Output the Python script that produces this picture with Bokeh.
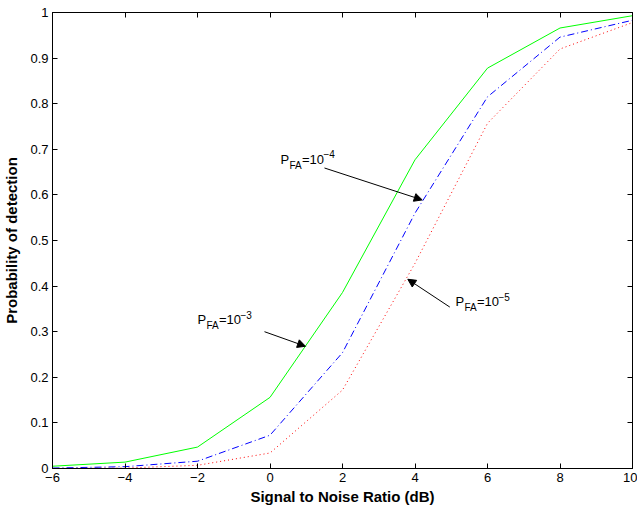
from bokeh.plotting import figure
from bokeh.models import (Label, Arrow, NormalHead, LinearAxis, FixedTicker)
from bokeh.embed import file_html
from bokeh.resources import INLINE

# ---- data ----
snr_db = [-6, -4, -2, 0, 2, 4, 6, 8, 10]
pd_fa3 = [0.005, 0.014, 0.047, 0.156, 0.386, 0.677, 0.878, 0.966, 0.993]
pd_fa4 = [0.001, 0.004, 0.016, 0.073, 0.254, 0.560, 0.815, 0.946, 0.983]
pd_fa5 = [0.000, 0.001, 0.007, 0.034, 0.172, 0.450, 0.757, 0.920, 0.978]

x_ticks = [-6, -4, -2, 0, 2, 4, 6, 8, 10]
x_tick_labels = ["\u22126", "\u22124", "\u22122", "0", "2", "4", "6", "8", "10"]
y_ticks = [0, 0.1, 0.2, 0.3, 0.4, 0.5, 0.6, 0.7, 0.8, 0.9, 1.0]
y_tick_labels = ["0", "0.1", "0.2", "0.3", "0.4", "0.5", "0.6", "0.7", "0.8", "0.9", "1"]

# annotation: (text position), sub, sup, arrow tail, arrow head
ann_text = ["P", "P", "P"]
ann_sub = ["FA", "FA", "FA"]
ann_exp = ["\u22123", "\u22124", "\u22125"]
ann_pos = [(-2.0, 0.326), (0.29, 0.678), (5.117, 0.366)]
ann_tail = [(-0.152, 0.300), (1.503, 0.659), (4.960, 0.354)]
ann_head = [(0.979, 0.268), (4.199, 0.589), (3.801, 0.415)]

FONT = "Liberation Sans"

p = figure(width=637, height=507, output_backend="svg", toolbar_location=None,
           x_range=(-6, 10), y_range=(0, 1),
           min_border_left=52, min_border_right=5, min_border_top=12,
           min_border_bottom=38)
p.background_fill_color = "white"
p.border_fill_color = "white"
p.xgrid.visible = False
p.ygrid.visible = False
p.outline_line_color = "black"
p.outline_line_width = 1

for ax in p.xaxis:
    ax.ticker = FixedTicker(ticks=x_ticks)
    ax.major_label_overrides = {t: l for t, l in zip(x_ticks, x_tick_labels)}
for ax in p.yaxis:
    ax.ticker = FixedTicker(ticks=y_ticks)
    ax.major_label_overrides = {t: l for t, l in zip(y_ticks, y_tick_labels)}

for ax in list(p.xaxis) + list(p.yaxis):
    ax.major_tick_in = 5
    ax.major_tick_out = 0
    ax.minor_tick_line_color = None
    ax.axis_line_color = "black"
    ax.major_tick_line_color = "black"
    ax.major_label_text_font = FONT
    ax.major_label_text_font_size = "13px"
    ax.major_label_text_color = "black"
    ax.axis_label_text_font = FONT
    ax.axis_label_text_font_size = "15px"
    ax.axis_label_text_font_style = "bold"
    ax.axis_label_text_color = "black"

p.xaxis.axis_label = "Signal to Noise Ratio (dB)"
p.yaxis.axis_label = "Probability of detection"
p.xaxis.major_label_standoff = 4
p.xaxis.axis_label_standoff = 3
p.yaxis.major_label_standoff = 4
p.yaxis.axis_label_standoff = 7

# box ticks on top and right (as unlabeled minor ticks)
top = LinearAxis(ticker=FixedTicker(ticks=[], minor_ticks=x_ticks),
                 minor_tick_in=5, minor_tick_out=0, major_tick_out=0, major_tick_in=0,
                 minor_tick_line_color="black", axis_line_color="black",
                 major_label_standoff=0)
right = LinearAxis(ticker=FixedTicker(ticks=[], minor_ticks=y_ticks),
                   minor_tick_in=5, minor_tick_out=0, major_tick_out=0, major_tick_in=0,
                   minor_tick_line_color="black", axis_line_color="black",
                   major_label_standoff=0)
p.add_layout(top, "above")
p.add_layout(right, "right")

p.line(snr_db, pd_fa3, line_color="#00ff00", line_width=1)
p.line(snr_db, pd_fa4, line_color="#0000ff", line_width=1, line_dash="7 3 1 3")
p.line(snr_db, pd_fa5, line_color="#ff0000", line_width=1, line_dash="1 3")

for t, sub, ex, pos, tail, head in zip(ann_text, ann_sub, ann_exp, ann_pos, ann_tail, ann_head):
    x0, y0 = pos
    p.add_layout(Label(x=x0, y=y0, text=t, text_font=FONT, text_font_size="13px",
                       text_baseline="alphabetic", text_align="left", text_color="black"))
    p.add_layout(Label(x=x0, y=y0, x_offset=9, y_offset=-6, text=sub, text_font=FONT,
                       text_font_size="10px", text_baseline="alphabetic",
                       text_align="left", text_color="black"))
    p.add_layout(Label(x=x0, y=y0, x_offset=21.5, y_offset=0, text="=10", text_font=FONT,
                       text_font_size="13px", text_baseline="alphabetic",
                       text_align="left", text_color="black"))
    p.add_layout(Label(x=x0, y=y0, x_offset=43, y_offset=5, text=ex, text_font=FONT,
                       text_font_size="10px", text_baseline="alphabetic",
                       text_align="left", text_color="black"))
    p.add_layout(Arrow(x_start=tail[0], y_start=tail[1], x_end=head[0], y_end=head[1],
                       line_color="black", line_width=1,
                       end=NormalHead(size=8, fill_color="black", line_color="black")))

open("out.html", "w").write(file_html(p, INLINE))
